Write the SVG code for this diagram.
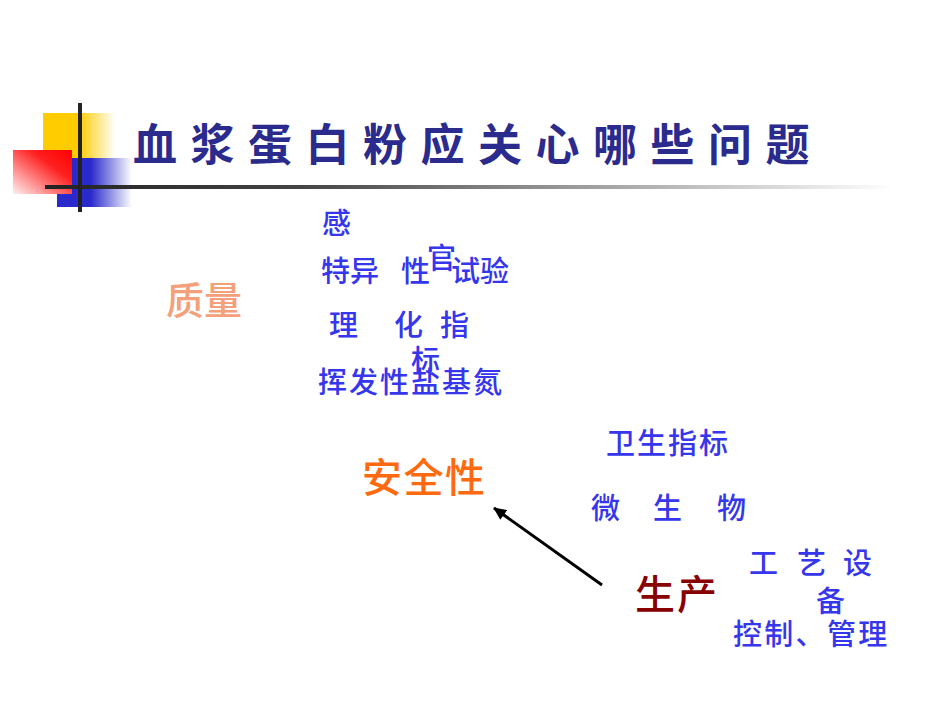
<svg xmlns="http://www.w3.org/2000/svg" width="950" height="713" viewBox="0 0 950 713">
<defs>
<linearGradient id="gy" x1="0" y1="0" x2="1" y2="0"><stop offset="0" stop-color="#FFCC00"/><stop offset="0.5" stop-color="#FFCC00"/><stop offset="1" stop-color="#FFFFFF"/></linearGradient>
<linearGradient id="gb" x1="0" y1="0" x2="1" y2="0"><stop offset="0" stop-color="#2A2ACC"/><stop offset="0.45" stop-color="#2A2ACC"/><stop offset="1" stop-color="#FFFFFF"/></linearGradient>
<linearGradient id="gr" x1="1" y1="0" x2="0" y2="1"><stop offset="0" stop-color="#FF0000"/><stop offset="0.35" stop-color="#FF2020"/><stop offset="1" stop-color="#FFF0F0"/></linearGradient>
<linearGradient id="gl" x1="0" y1="0" x2="1" y2="0"><stop offset="0" stop-color="#222222"/><stop offset="0.3" stop-color="#444444"/><stop offset="1" stop-color="#FFFFFF"/></linearGradient>
<marker id="ah" markerWidth="13" markerHeight="12" refX="12" refY="6" orient="auto" markerUnits="userSpaceOnUse"><path d="M0,0 L13,6 L0,12 z" fill="#000"/></marker>
<style>
text{font-family:"Noto Sans CJK SC","Noto Sans",sans-serif;}
.b{fill:#3636EC;font-size:29px;font-weight:500;}
.t{fill:#2B2B8E;font-size:44px;letter-spacing:13.5px;font-weight:700;}
</style>
</defs>
<g id="decor">
<rect x="43" y="113" width="72" height="46" fill="url(#gy)"/>
<rect x="57" y="158" width="75" height="49" fill="url(#gb)"/>
<rect x="13" y="150" width="59" height="44" fill="url(#gr)"/>
<rect x="45" y="185" width="850" height="4" fill="url(#gl)"/>
<rect x="78" y="103" width="4" height="109" fill="#222"/>
</g>
<g id="title"><text class="t" x="133" y="161">血浆蛋白粉应关心哪些问题</text></g>
<g id="quality"><text x="166" y="314" font-size="38" font-weight="500" fill="#F4A07A">质量</text></g>
<g id="quality-items">
<text class="b" x="322" y="234">感</text>
<text class="b" x="321" y="282">特异</text>
<text class="b" x="401" y="282">性</text>
<text class="b" x="427" y="269">官</text>
<text class="b" x="451" y="282">试验</text>
<text class="b" x="329" y="336">理</text>
<text class="b" x="394" y="336">化</text>
<text class="b" x="440" y="336">指</text>
<text class="b" x="411" y="371">标</text>
<text class="b" x="318" y="393" letter-spacing="2">挥发性盐基氮</text>
</g>
<g id="safety"><text x="362" y="492" font-size="40" font-weight="500" fill="#FF6A10" letter-spacing="1.5">安全性</text></g>
<g id="safety-items">
<text class="b" x="606" y="454" letter-spacing="2">卫生指标</text>
<text class="b" x="591" y="519">微</text>
<text class="b" x="653" y="519">生</text>
<text class="b" x="717" y="519">物</text>
</g>
<g id="production"><text x="635" y="609" font-size="40" font-weight="500" fill="#880000" letter-spacing="2">生产</text></g>
<g id="production-items">
<text class="b" x="749" y="574">工</text>
<text class="b" x="797" y="574">艺</text>
<text class="b" x="843" y="574">设</text>
<text class="b" x="816" y="612">备</text>
<text class="b" x="733" y="645" letter-spacing="2.3">控制、管理</text>
</g>
<g id="connectors">
<line x1="602" y1="585" x2="494" y2="508" stroke="#000" stroke-width="3" marker-end="url(#ah)"/>
</g>
</svg>
